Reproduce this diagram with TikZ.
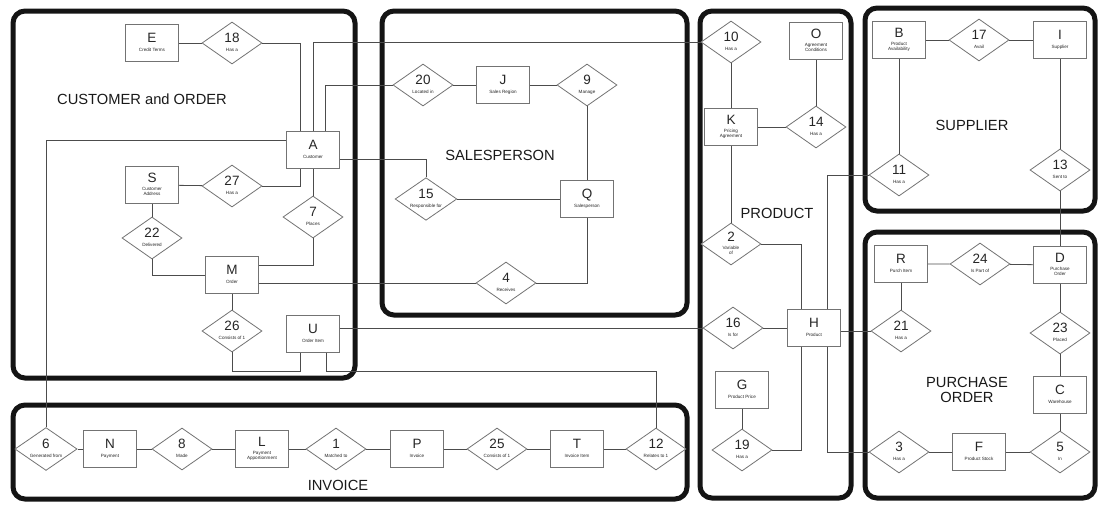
\documentclass[tikz,border=0pt]{standalone}
\usepackage{fontspec}
\setmainfont{Liberation Sans}
\usetikzlibrary{shapes.geometric}
\newcommand\entlab[2]{\fontsize{13.5}{13.5}\selectfont #1\\[-2pt]\fontsize{4.6}{5}\selectfont\begin{tabular}{@{}c@{}}#2\end{tabular}}
\begin{document}
\begin{tikzpicture}[x=1pt,y=-1pt,
 grp/.style={line width=5pt, rounded corners=12pt, draw=black!92},
 ent/.style={draw=black!55, fill=white, line width=0.8pt, minimum width=53pt, minimum height=37pt, inner sep=0pt, align=center, text=black!85},
 rel/.style={diamond, draw=black!55, fill=white, line width=0.8pt, minimum width=60pt, minimum height=42pt, inner sep=0pt, shape aspect=1.45, align=center, text=black!85},
 conn/.style={draw=black!70, line width=0.8pt},
 glabel/.style={font=\fontsize{14.7}{17}\selectfont, text=black!90, align=center}
]
\useasboundingbox (0,0) rectangle (1099,504);
% group boxes
\draw[grp] (13,11) rectangle (355,378);
\draw[grp] (382,11) rectangle (687,315);
\draw[grp] (700,11) rectangle (851,498);
\draw[grp] (865,8) rectangle (1095,211);
\draw[grp] (865,232) rectangle (1095,498);
\draw[grp] (13,405) rectangle (687,499);
% group labels
\node[glabel] (lcust) at (142,99) {CUSTOMER and ORDER};
\node[glabel] (lsales) at (500,155) {SALESPERSON};
\node[glabel] (lprod) at (777,213) {PRODUCT};
\node[glabel] (lsupp) at (972,125) {SUPPLIER};
\node[glabel] (lpo) at (967,390) {PURCHASE\\[-2pt]ORDER};
\node[glabel] (linv) at (338,485) {INVOICE};
% entities
\node[ent] (E) at (152,43) {\entlab{E}{Credit Terms}};
\node[ent] (S) at (152,185) {\entlab{S}{Customer\\Address}};
\node[ent] (A) at (313,150) {\entlab{A}{Customer}};
\node[ent] (M) at (232,275) {\entlab{M}{Order}};
\node[ent] (U) at (313,334) {\entlab{U}{Order Item}};
\node[ent] (J) at (503,85) {\entlab{J}{Sales Region}};
\node[ent] (Q) at (587,199) {\entlab{Q}{Salesperson}};
\node[ent] (O) at (816,41) {\entlab{O}{Agreement\\Conditions}};
\node[ent] (K) at (731,127) {\entlab{K}{Pricing\\Agreement}};
\node[ent] (H) at (814,328) {\entlab{H}{Product}};
\node[ent] (G) at (742,390) {\entlab{G}{Product Price}};
\node[ent] (B) at (899,40) {\entlab{B}{Product\\Availability}};
\node[ent] (I) at (1060,40) {\entlab{I}{Supplier}};
\node[ent] (R) at (901,264) {\entlab{R}{Purch Item}};
\node[ent] (D) at (1060,265) {\entlab{D}{Purchase\\Order}};
\node[ent] (C) at (1060,395) {\entlab{C}{Warehouse}};
\node[ent] (F) at (979,452) {\entlab{F}{Product Stock}};
\node[ent] (N) at (110,449) {\entlab{N}{Payment}};
\node[ent] (L) at (262,449) {\entlab{L}{Payment\\Apportionment}};
\node[ent] (P) at (417,449) {\entlab{P}{Invoice}};
\node[ent] (T) at (577,449) {\entlab{T}{Invoice Item}};
% relationships
\node[rel] (d18) at (232,43) {\entlab{18}{Has a}};
\node[rel] (d27) at (232,186) {\entlab{27}{Has a}};
\node[rel] (d22) at (152,238) {\entlab{22}{Delivered}};
\node[rel] (d7) at (313,217) {\entlab{7}{Places}};
\node[rel] (d26) at (232,331) {\entlab{26}{Consists of 1}};
\node[rel] (d20) at (423,85) {\entlab{20}{Located in}};
\node[rel] (d15) at (426,199) {\entlab{15}{Responsible for}};
\node[rel] (d9) at (587,85) {\entlab{9}{Manage}};
\node[rel] (d4) at (506,283) {\entlab{4}{Receives}};
\node[rel] (d10) at (731,42) {\entlab{10}{Has a}};
\node[rel] (d14) at (816,127) {\entlab{14}{Has a}};
\node[rel] (d2) at (731,244) {\entlab{2}{Variable\\of}};
\node[rel] (d16) at (733,328) {\entlab{16}{Is for}};
\node[rel] (d19) at (742,450) {\entlab{19}{Has a}};
\node[rel] (d17) at (979,40) {\entlab{17}{Avail}};
\node[rel] (d11) at (899,175) {\entlab{11}{Has a}};
\node[rel] (d13) at (1060,170) {\entlab{13}{Sent to}};
\node[rel] (d24) at (980,264) {\entlab{24}{Is Part of}};
\node[rel] (d21) at (901,331) {\entlab{21}{Has a}};
\node[rel] (d23) at (1060,333) {\entlab{23}{Placed}};
\node[rel] (d5) at (1060,452) {\entlab{5}{In}};
\node[rel] (d3) at (899,452) {\entlab{3}{Has a}};
\node[rel] (d6) at (46,449) {\entlab{6}{Generated from}};
\node[rel] (d8) at (182,449) {\entlab{8}{Made}};
\node[rel] (d1) at (336,449) {\entlab{1}{Matched to}};
\node[rel] (d25) at (497,449) {\entlab{25}{Consists of 1}};
\node[rel] (d12) at (656,449) {\entlab{12}{Relates to 1}};
% bend coordinates
\coordinate (r26) at (232,371);
\coordinate (r12) at (656,371);
% connectors
\draw[conn] (E) -- (d18);
\draw[conn] (d18.east) -| ([xshift=-13pt]A.north);
\draw[conn] (A.north) |- (d10.west);
\draw[conn] ([xshift=12pt]A.north) |- (d20.west);
\draw[conn] (d6.north) |- ([yshift=10pt]A.west);
\draw[conn] (d27.east) -| ([xshift=-13pt]A.south);
\draw[conn] (A) -- (d7);
\draw[conn] ([yshift=-9pt]A.east) -| (d15.north);
\draw[conn] (d7.south) |- ([yshift=10pt]M.east);
\draw[conn] ([yshift=-8pt]M.east) -- (d4.west);
\draw[conn] (S) -- (d22);
\draw[conn] (d22.south) |- (M.west);
\draw[conn] (S) -- (d27);
\draw[conn] (M) -- (d26);
\draw[conn] (d26.south) -- (r26) -| ([xshift=-13pt]U.south);
\draw[conn] ([xshift=13pt]U.south) |- (r12) -- (d12.north);
\draw[conn] ([yshift=6pt]U.east) -- (d16.west);
\draw[conn] (d20) -- (J) -- (d9);
\draw[conn] (d9) -- (Q);
\draw[conn] (d15) -- (Q);
\draw[conn] (Q.south) |- (d4.east);
\draw[conn] (d10) -- (K);
\draw[conn] (K) -- (d14);
\draw[conn] (O) -- (d14);
\draw[conn] (K) -- (d2);
\draw[conn] (d2.east) -| ([xshift=-13pt]H.north);
\draw[conn] (d16) -- (H);
\draw[conn] ([xshift=-13pt]H.south) |- (d19.east);
\draw[conn] (G) -- (d19);
\draw[conn] ([yshift=-3pt]H.east) -- (d21.west);
\draw[conn] ([xshift=13pt]H.north) |- (d11.west);
\draw[conn] ([xshift=13pt]H.south) |- (d3.west);
\draw[conn] (B) -- (d11);
\draw[conn] (B) -- (d17) -- (I);
\draw[conn] (I) -- (d13);
\draw[conn] (d13) -- (D);
\draw[conn] (R) -- (d24) -- (D);
\draw[conn] (R) -- (d21);
\draw[conn] (D) -- (d23) -- (C) -- (d5);
\draw[conn] (d5) -- (F) -- (d3);
\draw[conn] (d6) -- (N) -- (d8) -- (L) -- (d1) -- (P) -- (d25) -- (T) -- (d12);
\end{tikzpicture}
\end{document}
